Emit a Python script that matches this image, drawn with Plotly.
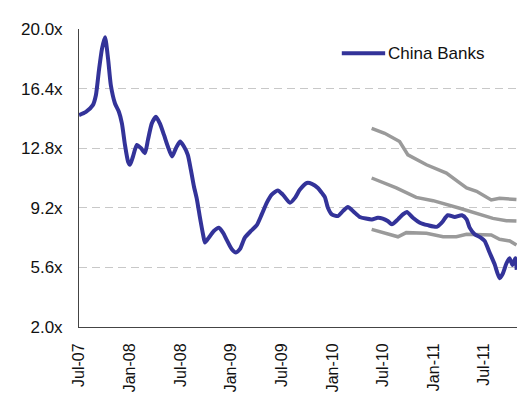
import plotly.graph_objects as go

# China Banks P/E multiple (weekly-ish readings)
bank_dates = [
    "2007-07-01", "2007-07-26", "2007-08-20", "2007-08-31", "2007-09-11", "2007-09-22",
    "2007-10-03", "2007-10-14", "2007-10-24", "2007-11-08", "2007-11-22", "2007-12-03",
    "2007-12-14", "2007-12-25", "2008-01-01", "2008-01-12", "2008-01-26", "2008-02-10",
    "2008-02-24", "2008-03-06", "2008-03-20", "2008-04-04", "2008-04-18", "2008-05-03",
    "2008-05-17", "2008-06-01", "2008-06-15", "2008-06-30", "2008-07-14", "2008-07-28",
    "2008-08-08", "2008-08-19", "2008-08-30", "2008-09-10", "2008-09-21", "2008-09-28",
    "2008-10-12", "2008-10-30", "2008-11-17", "2008-12-02", "2008-12-16", "2009-01-03",
    "2009-01-18", "2009-02-01", "2009-02-19", "2009-03-13", "2009-04-03", "2009-04-21",
    "2009-05-09", "2009-05-27", "2009-06-18", "2009-07-06", "2009-08-01", "2009-08-19",
    "2009-09-06", "2009-10-01", "2009-10-19", "2009-11-10", "2009-11-24", "2009-12-05",
    "2009-12-16", "2009-12-30", "2010-01-21", "2010-02-08", "2010-02-26", "2010-03-20",
    "2010-04-10", "2010-05-02", "2010-05-24", "2010-06-14", "2010-07-02", "2010-07-20",
    "2010-08-04", "2010-08-26", "2010-09-13", "2010-09-27", "2010-10-19", "2010-11-13",
    "2010-12-12", "2011-01-13", "2011-01-31", "2011-02-22", "2011-03-19", "2011-04-14",
    "2011-05-01", "2011-05-12", "2011-05-30", "2011-06-21", "2011-07-05", "2011-07-23",
    "2011-08-10", "2011-08-28", "2011-09-08", "2011-09-22", "2011-10-03", "2011-10-14",
    "2011-10-24", "2011-10-29",
]
bank_pe = [
    14.8, 15.0, 15.4, 16.0, 17.5, 18.8,
    19.5, 18.2, 16.6, 15.5, 15.0, 14.3,
    13.0, 12.0, 11.8, 12.3, 13.0, 12.8,
    12.5, 13.3, 14.3, 14.7, 14.3, 13.6,
    12.9, 12.3, 12.8, 13.2, 12.9, 12.4,
    11.5, 10.5, 9.7, 8.6, 7.6, 7.1,
    7.4, 7.8, 8.0, 7.7, 7.25, 6.7,
    6.5, 6.7, 7.4, 7.8, 8.15, 8.8,
    9.5, 10.0, 10.25, 10.0, 9.5, 9.8,
    10.3, 10.7, 10.65, 10.4, 10.1, 9.85,
    9.2, 8.8, 8.7, 9.0, 9.25, 8.95,
    8.65, 8.55, 8.5, 8.6, 8.55, 8.4,
    8.2, 8.5, 8.8, 8.95, 8.6, 8.3,
    8.15, 8.05, 8.3, 8.75, 8.65, 8.75,
    8.5, 8.0, 7.6, 7.4, 7.2, 6.5,
    5.8, 4.95, 5.2, 5.85, 6.15, 5.75,
    6.15, 5.45,
]

# Grey band lines (upper / middle / lower)
upper_dates = [
    "2010-05-23", "2010-07-09", "2010-09-01", "2010-10-01", "2010-12-07", "2011-02-17",
    "2011-04-06", "2011-05-01", "2011-06-06", "2011-07-05", "2011-07-29", "2011-08-28",
    "2011-10-28",
]
upper_pe = [14.0, 13.7, 13.2, 12.4, 11.8, 11.3, 10.7, 10.4, 10.2, 9.9, 9.67, 9.77, 9.7]

middle_dates = [
    "2010-05-23", "2010-08-20", "2010-10-31", "2010-12-31", "2011-04-06", "2011-06-06",
    "2011-08-04", "2011-09-22", "2011-10-28",
]
middle_pe = [11.0, 10.4, 9.83, 9.63, 9.17, 8.87, 8.56, 8.42, 8.4]

lower_dates = [
    "2010-05-23", "2010-08-26", "2010-09-25", "2010-12-07", "2011-02-05", "2011-03-25",
    "2011-05-01", "2011-07-29", "2011-08-28", "2011-10-04", "2011-10-28",
]
lower_pe = [7.9, 7.45, 7.7, 7.66, 7.45, 7.45, 7.6, 7.56, 7.3, 7.2, 6.95]

x_tick_dates = [
    "2007-07-01", "2008-01-01", "2008-07-01", "2009-01-01", "2009-07-01",
    "2010-01-01", "2010-07-01", "2011-01-01", "2011-07-01",
]
x_tick_labels = ["Jul-07", "Jan-08", "Jul-08", "Jan-09", "Jul-09",
                 "Jan-10", "Jul-10", "Jan-11", "Jul-11"]
y_tick_values = [2.0, 5.6, 9.2, 12.8, 16.4, 20.0]
y_tick_labels = ["2.0x", "5.6x", "9.2x", "12.8x", "16.4x", "20.0x"]

BLUE = "#333399"
GREY = "#9a9a9a"
FONT = "Liberation Sans, Arial, sans-serif"

fig = go.Figure()
for d, v in [(upper_dates, upper_pe), (middle_dates, middle_pe), (lower_dates, lower_pe)]:
    fig.add_trace(go.Scatter(x=d, y=v, mode="lines", showlegend=False,
                             line=dict(color=GREY, width=3.5), hoverinfo="skip"))
fig.add_trace(go.Scatter(x=bank_dates, y=bank_pe, mode="lines", name="China Banks",
                         showlegend=False, line=dict(color=BLUE, width=4, shape="spline",
                                                     smoothing=0.6)))

fig.update_layout(
    width=520, height=394,
    margin=dict(l=79, r=3, t=29, b=67),
    paper_bgcolor="white", plot_bgcolor="white",
    font=dict(family=FONT, size=17, color="#111111"),
    xaxis=dict(
        range=["2007-07-01", "2011-10-30"], automargin=False,
        tickvals=x_tick_dates, ticktext=x_tick_labels, tickangle=-90,
        showgrid=False, zeroline=False, showline=True, linecolor="#444444", linewidth=1,
        ticks="", ticklabelstandoff=9, tickfont=dict(size=16),
    ),
    yaxis=dict(
        range=[2, 20], automargin=False,
        tickvals=y_tick_values, ticktext=y_tick_labels,
        showgrid=True, gridcolor="#c8c8c8", griddash="8px,5px", gridwidth=1,
        zeroline=False, showline=True, linecolor="#444444", linewidth=1,
        ticks="", ticklabelstandoff=12, tickfont=dict(size=17),
    ),
    shapes=[dict(type="line", xref="paper", yref="paper",
                 x0=0.600, x1=0.699, y0=0.919, y1=0.919,
                 line=dict(color=BLUE, width=4))],
    annotations=[dict(text="China Banks", xref="paper", yref="paper",
                      x=0.701, y=0.919, xanchor="left", yanchor="middle",
                      showarrow=False, font=dict(size=17, family=FONT, color="#111111"))],
)

fig.write_html("out.html")
